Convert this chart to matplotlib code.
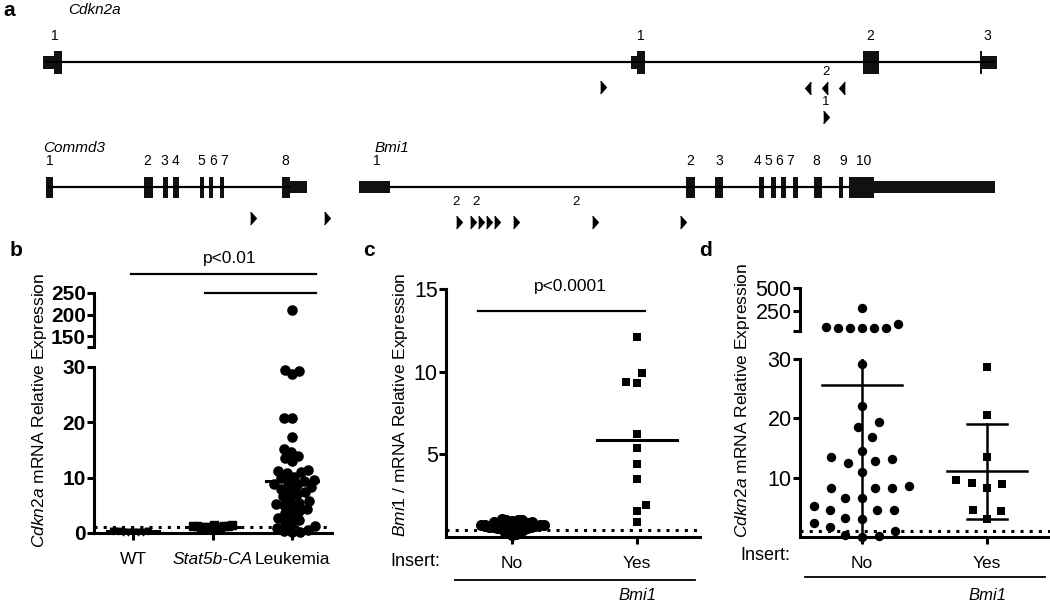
import numpy as np
import matplotlib
matplotlib.use('Agg')
import matplotlib.pyplot as plt
from matplotlib.patches import Rectangle

plt.rcParams['font.family'] = ['Liberation Sans', 'DejaVu Sans']
plt.rcParams['mathtext.fontset'] = 'custom'
plt.rcParams['mathtext.rm'] = 'Liberation Sans'
plt.rcParams['mathtext.it'] = 'Liberation Sans:italic'
plt.rcParams['mathtext.bf'] = 'Liberation Sans:bold'

W, H = 1050, 603

# ---------------- panel a: gene maps (x = map position) ----------------
cdkn2a_span = (45, 995)
cdkn2a_exons = [(43, 54, 's'), (54, 62, 't'), (631, 637, 's'), (637, 645, 't'),
                (863, 879, 't'), (980, 982, 't'), (982, 997, 's')]
cdkn2a_nums = ['1', '1', '2', '3']
cdkn2a_num_x = [55, 641, 870, 987]
cdkn2a_fwd = [603, 826]
cdkn2a_fwd_row = [0, 1]
cdkn2a_rev = [808, 825, 842]
cdkn2a_ins_counts = [('2', 826, 0), ('1', 826, 1)]

commd3_span = (47, 290)
commd3_exons = [(46, 53, 't'), (144, 153, 't'), (163, 168, 't'), (173, 179, 't'),
                (200, 204, 't'), (209, 213, 't'), (220, 224, 't'), (282, 290, 't'),
                (290, 307, 's')]
commd3_nums = ['1', '2', '3', '4', '5', '6', '7', '8']
commd3_num_x = [50, 147, 164, 176, 201, 213, 224, 285]

bmi1_span = (390, 850)
bmi1_exons = [(359, 390, 's'), (686, 695, 't'), (715, 723, 't'), (759, 764, 't'),
              (771, 776, 't'), (781, 786, 't'), (793, 798, 't'), (814, 822, 't'),
              (839, 843, 't'), (849, 874, 't'), (874, 995, 's')]
bmi1_nums = ['1', '2', '3', '4', '5', '6', '7', '8', '9', '10']
bmi1_num_x = [377, 690, 719, 757, 768, 779, 790, 816, 843, 864]
row2_fwd = [253, 327, 459, 473, 481, 489, 497, 516, 595, 683]
row2_fwd_y = [218, 218, 222, 222, 222, 222, 222, 222, 222, 222]
row2_counts = [('2', 456), ('2', 476), ('2', 576)]

# ---------------- panel b ----------------
b_groups = ['WT', 'Stat5b-CA', 'Leukemia']
b_wt = [0.1, 0.15, 0.2, 0.2, 0.25, 0.3, 0.35, 0.4]
b_stat = [0.8, 0.9, 1.0, 1.0, 1.1, 1.15, 1.2, 1.2, 1.25, 1.3, 1.4, 1.5]
b_leuk = [210, 29.4, 29.3, 28.7, 20.7, 20.7, 17.3, 15.1, 14.6, 14.0, 13.6, 13.1,
          11.3, 11.2, 11.0, 10.9, 10.2, 9.9, 9.6, 9.4, 9.2, 8.9, 8.6, 8.3, 8.0, 7.8,
          7.4, 7.0, 6.6, 6.2, 5.8, 5.5, 5.3, 5.1, 4.8, 4.4, 4.0, 3.6, 3.2, 2.8, 2.4,
          2.0, 1.6, 1.2, 0.9, 0.6, 0.4, 0.2, 0.1]
b_centre = [0.3, 1.15, 9.4]

# ---------------- panel c ----------------
c_groups = ['No', 'Yes']
c_no = [1.1, 1.05, 1.0, 1.0, 0.95, 0.9, 0.9, 0.85, 0.85, 0.8, 0.8, 0.8, 0.75, 0.75,
        0.7, 0.7, 0.7, 0.68, 0.65, 0.65, 0.62, 0.6, 0.6, 0.58, 0.55, 0.55, 0.52,
        0.5, 0.5, 0.45, 0.4, 0.35, 0.3, 0.25, 0.2, 0.15]
c_yes = [12.1, 9.9, 9.35, 9.3, 6.2, 5.4, 4.4, 3.5, 1.95, 1.6, 0.9]
c_yes_mean = 5.85

# ---------------- panel d ----------------
d_groups = ['No', 'Yes']
d_no = [283, 105, 70, 68, 62, 66, 68, 72,
        29.2, 22.1, 19.4, 18.6, 16.8, 14.5, 13.4, 13.1, 12.8, 12.5, 11.0, 8.6, 8.3,
        8.3, 8.3, 6.6, 6.5, 5.3, 4.6, 4.6, 4.5, 3.2, 3.1, 2.3, 1.7, 1.0, 0.3, 0.2, 0.0]
d_yes = [28.6, 20.6, 13.5, 9.6, 9.1, 8.9, 8.2, 4.5, 4.4, 3.1]
d_mean = [25.7, 11.1]
d_sd = [60.0, 8.0]

fig = plt.figure(figsize=(W / 100, H / 100), dpi=100)


def px_axes(x0, y0, x1, y1):
    return fig.add_axes([x0 / W, 1 - y1 / H, (x1 - x0) / W, (y1 - y0) / H])


def swarm(vals, h_px, ylim, px_per_unit, dist):
    # simple beeswarm offsets, returned in category units; sides alternate
    ypx = (np.asarray(vals, float) - ylim[0]) / (ylim[1] - ylim[0]) * h_px
    placed = []
    offs = np.zeros(len(ypx))
    side = 1
    for i in np.argsort(ypx):
        y = ypx[i]
        cands = [0.0]
        for px, py in placed:
            dy = y - py
            if abs(dy) < dist:
                dx = np.sqrt(dist ** 2 - dy ** 2)
                cands += [px + dx, px - dx]
        cands = sorted(cands, key=lambda c: (round(abs(c), 3), -side * np.sign(c)))
        for c in cands:
            if all((c - px) ** 2 + (y - py) ** 2 >= dist ** 2 - 1e-6 for px, py in placed):
                break
        if c != 0:
            side = -side
        placed.append((c, y))
        offs[i] = c
    return offs / px_per_unit


def style_axis(ax, bold=False, xaxis=True, ysize=14):
    for s in ['top', 'right']:
        ax.spines[s].set_visible(False)
    ax.spines['left'].set_linewidth(2.2)
    ax.spines['bottom'].set_linewidth(2.2)
    if not xaxis:
        ax.spines['bottom'].set_visible(False)
        ax.set_xticks([])
    ax.tick_params(axis='y', length=5, width=2.2, pad=1, labelsize=ysize)
    ax.tick_params(axis='x', length=5, width=2.2, pad=9, labelsize=12.5)
    ax.patch.set_alpha(0)
    if bold:
        for t in ax.get_yticklabels():
            t.set_fontweight('bold')


# overlay in pixel coordinates for panel a and annotations
ov = fig.add_axes([0, 0, 1, 1])
ov.set_xlim(0, W)
ov.set_ylim(H, 0)
ov.axis('off')


def draw_gene(span, exons, yc, tall, short):
    ov.plot(span, [yc, yc], color='black', lw=1.6, solid_capstyle='butt')
    for x0, x1, k in exons:
        hh = tall if k == 't' else short
        ov.add_patch(Rectangle((x0, yc - hh / 2), x1 - x0, hh, color='#111111', lw=0))


arrow_r = [(-0.45, -1), (0.45, 0), (-0.45, 1)]
arrow_l = [(0.45, -1), (-0.45, 0), (0.45, 1)]

ov.text(3, 11, 'a', fontsize=15, fontweight='bold', va='center')
ov.text(68, 10, 'Cdkn2a', fontsize=11, style='italic', va='center')
draw_gene(cdkn2a_span, cdkn2a_exons, 62, 23, 13)
for n, x in zip(cdkn2a_nums, cdkn2a_num_x):
    ov.text(x, 36, n, fontsize=10, ha='center', va='center')
for x, r in zip(cdkn2a_fwd, cdkn2a_fwd_row):
    ov.plot(x, 87 + 30 * r, marker=arrow_r, ms=9, color='black', lw=0)
ov.plot(cdkn2a_rev, [88] * len(cdkn2a_rev), marker=arrow_l, ms=9, color='black', lw=0)
for n, x, r in cdkn2a_ins_counts:
    ov.text(x, 72 + 30 * r, n, fontsize=9.5, ha='center', va='center')

ov.text(43, 148, 'Commd3', fontsize=11, style='italic', va='center')
ov.text(375, 148, 'Bmi1', fontsize=11, style='italic', va='center')
draw_gene(commd3_span, commd3_exons, 187, 21, 12)
draw_gene(bmi1_span, bmi1_exons, 187, 21, 12)
for n, x in zip(commd3_nums + bmi1_nums, commd3_num_x + bmi1_num_x):
    ov.text(x, 161, n, fontsize=10, ha='center', va='center')
ov.plot(row2_fwd, row2_fwd_y, marker=arrow_r, ms=9, color='black', lw=0)
for n, x in row2_counts:
    ov.text(x, 202, n, fontsize=9.5, ha='center', va='center')

# ---------------- panel b ----------------
bx = np.arange(len(b_groups))
b_xlim = (-0.49, 2.5)
axb = px_axes(94, 367, 332, 533)
axb_u = px_axes(94, 293, 332, 347)
axb.set_xlim(*b_xlim)
axb_u.set_xlim(*b_xlim)
axb.set_ylim(0, 30)
axb_u.set_ylim(125, 250)
ppu_b = 238 / (b_xlim[1] - b_xlim[0])

axb.axhline(1.0, color='black', lw=2.2, ls=(0, (1, 2)), zorder=1)
wt_x = bx[0] + swarm(b_wt, 166, (0, 30), ppu_b, 5)
axb.scatter(wt_x, b_wt, marker='v', s=22, color='black', clip_on=False, zorder=3)
st_x = bx[1] + swarm(b_stat, 166, (0, 30), ppu_b, 4)
axb.scatter(st_x, b_stat, marker='s', s=40, color='black', clip_on=False, zorder=3)
leuk = np.array(b_leuk)
lo = leuk[leuk <= 30]
hi = leuk[leuk > 30]
lk_x = bx[2] + swarm(lo, 166, (0, 30), ppu_b, 8)
axb.scatter(lk_x, lo, marker='o', s=58, color='black', clip_on=False, zorder=3, lw=0)
axb_u.scatter(np.full(len(hi), bx[2]), hi, marker='o', s=58, color='black', zorder=3, lw=0)
for xi, m in zip(bx, b_centre):
    axb.plot([xi - 0.33, xi + 0.33], [m, m], color='black', lw=2.2, zorder=4)

axb.set_xticks(bx)
axb.set_xticklabels(b_groups)
axb.set_yticks([0, 10, 20, 30])
axb_u.set_yticks([125, 150, 200, 250])
axb_u.set_yticklabels(['', '150', '200', '250'])
style_axis(axb, bold=True, ysize=15)
style_axis(axb_u, bold=True, xaxis=False, ysize=15)
axb.get_xticklabels()[1].set_fontstyle('italic')

ov.text(10, 250, 'b', fontsize=15, fontweight='bold', va='center')
ov.text(40, 410, r'$\it{Cdkn2a}$ mRNA Relative Expression', fontsize=12.5,
        rotation=90, ha='center', va='center')
ov.plot([131, 316], [274, 274], color='black', lw=1.6)
ov.plot([205, 316], [293, 293], color='black', lw=1.6)
ov.text(230, 258, 'p<0.01', fontsize=12.5, ha='center', va='center')

# ---------------- panel c ----------------
cx = np.arange(len(c_groups))
c_xlim = (-0.528, 1.504)
axc = px_axes(446, 289, 700, 537)
axc.set_xlim(*c_xlim)
axc.set_ylim(0, 15)
ppu_c = 254 / (c_xlim[1] - c_xlim[0])
axc.axhline(0.45, color='black', lw=2.2, ls=(0, (1, 2)), zorder=1)
no_x = cx[0] + swarm(c_no, 248, (0, 15), ppu_c, 4.2)
axc.scatter(no_x, c_no, marker='o', s=64, color='black', clip_on=False, zorder=3, lw=0)
yes_x = cx[1] + swarm(c_yes, 248, (0, 15), ppu_c, 11)
axc.scatter(yes_x, c_yes, marker='s', s=40, color='black', clip_on=False, zorder=3, lw=0)
axc.plot([cx[1] - 0.32, cx[1] + 0.32], [c_yes_mean, c_yes_mean], color='black', lw=2.2, zorder=4)
axc.set_xticks(cx)
axc.set_xticklabels(c_groups)
axc.set_yticks([5, 10, 15])
style_axis(axc, ysize=15.5)

ov.text(363, 250, 'c', fontsize=15, fontweight='bold', va='center')
ov.text(400, 405, r'$\it{Bmi1\ /}$ mRNA Relative Expression', fontsize=12.5,
        rotation=90, ha='center', va='center')
ov.plot([478, 645], [311, 311], color='black', lw=1.6)
ov.text(570, 287, 'p<0.0001', fontsize=12.5, ha='center', va='center')
ov.text(440, 562, 'Insert:', fontsize=13, ha='right', va='center')
ov.plot([455, 695], [580, 580], color='black', lw=1.3)
ov.text(637, 596, 'Bmi1', fontsize=12, style='italic', ha='center', va='center')

# ---------------- panel d ----------------
dx = np.arange(len(d_groups))
d_xlim = (-0.496, 1.504)
axd = px_axes(800, 359, 1050, 537)
axd_u = px_axes(800, 288, 1050, 331)
axd.set_xlim(*d_xlim)
axd_u.set_xlim(*d_xlim)
axd.set_ylim(0, 30)
axd_u.set_ylim(33, 500)
ppu_d = 250 / (d_xlim[1] - d_xlim[0])
axd.axhline(1.0, color='black', lw=2.2, ls=(0, (1, 2)), zorder=1)

dno = np.array(d_no)
dlo = dno[dno <= 30]
dhi = dno[dno > 30]
axd.scatter(dx[0] + swarm(dlo, 178, (0, 30), ppu_d, 17), dlo, marker='o', s=46,
            color='black', clip_on=False, zorder=3, lw=0)
axd_u.scatter(dx[0] + swarm(dhi, 43, (33, 500), ppu_d, 12), dhi, marker='o', s=46,
              color='black', clip_on=False, zorder=3, lw=0)
axd.scatter(dx[1] + swarm(d_yes, 178, (0, 30), ppu_d, 16), d_yes, marker='s', s=40,
            color='black', clip_on=False, zorder=3, lw=0)
for xi, m, s in zip(dx, d_mean, d_sd):
    axd.plot([xi - 0.32, xi + 0.32], [m, m], color='black', lw=1.8, zorder=4)
    axd.plot([xi, xi], [m - s, m + s], color='black', lw=1.8, zorder=4)
    axd.plot([xi - 0.16, xi + 0.16], [m - s, m - s], color='black', lw=1.8, zorder=4)
    axd.plot([xi - 0.16, xi + 0.16], [m + s, m + s], color='black', lw=1.8, zorder=4)

axd.set_xticks(dx)
axd.set_xticklabels(d_groups)
axd.set_yticks([10, 20, 30])
axd_u.set_yticks([33, 250, 500])
axd_u.set_yticklabels(['', '250', '500'])
style_axis(axd, ysize=15.5)
style_axis(axd_u, xaxis=False, ysize=15.5)

ov.text(699, 250, 'd', fontsize=15, fontweight='bold', va='center')
ov.text(743, 400, r'$\it{Cdkn2a}$ mRNA Relative Expression', fontsize=12.5,
        rotation=90, ha='center', va='center')
ov.text(790, 555, 'Insert:', fontsize=13, ha='right', va='center')
ov.plot([805, 1045], [577, 577], color='black', lw=1.3)
ov.text(987, 596, 'Bmi1', fontsize=12, style='italic', ha='center', va='center')

fig.savefig('out.png', dpi=100)
